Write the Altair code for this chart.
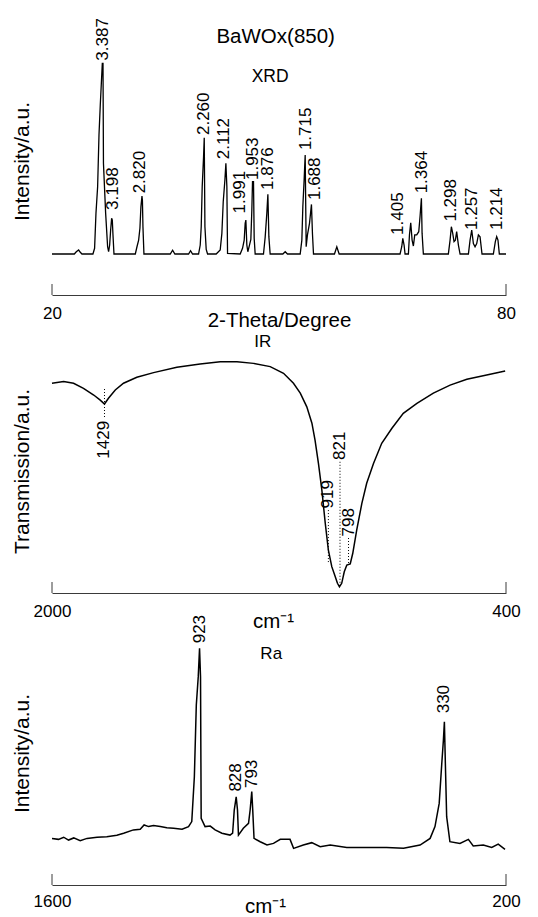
import altair as alt
import pandas as pd

FONT = "Liberation Sans"
INK = "black"
AXIS_GREY = "#3a3a3a"

# ---------------- XRD data ----------------
xrd_2theta = [20.00, 22.95, 23.21, 23.52, 23.74, 23.96,
              25.41, 25.63, 25.81, 26.03, 26.21, 26.38, 26.52, 26.65, 26.74, 26.80, 27.09, 27.35, 27.48,
              27.62, 27.75, 27.88, 27.97, 28.06, 28.19,
              31.01, 31.23, 31.45, 31.62, 31.75, 31.89, 31.95, 32.02, 32.15,
              35.63, 35.94, 36.24, 38.05, 38.31, 38.58,
              39.37, 39.59, 39.72, 39.85, 40.03, 40.12, 40.21, 40.38, 40.56,
              41.70, 42.23, 42.45, 42.63, 42.85, 42.98, 43.11, 43.20,
              44.87, 45.18, 45.40, 45.53, 45.62, 45.75, 45.88, 46.10, 46.28, 46.41, 46.50, 46.63, 46.72, 46.85,
              47.95, 48.17, 48.39, 48.53, 48.66, 48.83,
              50.51, 50.82, 51.12,
              52.80, 53.02, 53.15, 53.32, 53.46, 53.59, 53.76, 54.03, 54.29, 54.42, 54.56,
              57.33, 57.64, 57.95,
              66.00, 66.22, 66.36, 66.53, 66.66,
              67.10, 67.24, 67.41, 67.59, 67.76, 67.94, 68.20, 68.47, 68.64, 68.82, 68.91, 69.08,
              72.38, 72.61, 72.78, 72.96, 73.13, 73.31, 73.48, 73.71, 73.93,
              75.03, 75.25, 75.47, 75.69, 75.91, 76.13, 76.35, 76.57, 76.83,
              78.33, 78.59, 78.77, 78.94, 79.12, 80.00]
xrd_intensity = [0, 0, 1.2, 2.1, 0.9, 0,
                 0, 3.0, 21.3, 35.3, 62.4, 78.1, 89.5, 100, 100, 47.6, 21.3, 3.8, 1.2,
                 4.7, 12.6, 18.7, 17.8, 10.0, 0,
                 0, 3.8, 7.3, 13.5, 24.8, 30.4, 28.0, 14.3, 0,
                 0, 2.0, 0, 0, 1.7, 0,
                 0, 4.7, 14.3, 35.3, 51.0, 61.0, 14.3, 2.4, 0,
                 0, 2.1, 10.8, 27.4, 38.8, 47.6, 35.3, 0.3,
                 0, 3.0, 7.3, 16.1, 17.8, 4.7, 1.2, 4.7, 7.7, 23.1, 37.9, 37.9, 8.2, 0,
                 0, 8.7, 21.3, 31.3, 9.1, 0,
                 0, 1.2, 0,
                 0, 7.3, 24.8, 38.8, 51.9, 3.8, 10.0, 16.1, 26.0, 10.8, 0,
                 0, 3.8, 0,
                 0, 3.8, 8.2, 4.7, 0,
                 0, 10.0, 16.4, 7.3, 4.2, 10.0, 10.0, 11.7, 19.6, 29.2, 10.8, 0,
                 0, 7.3, 14.3, 10.8, 6.5, 7.3, 11.7, 4.7, 0,
                 0, 7.3, 12.6, 5.5, 3.8, 5.5, 10.0, 9.0, 0,
                 0, 6.5, 9.1, 7.3, 0, 0]
xrd_peak_labels = ["3.387", "3.198", "2.820", "2.260", "2.112", "1.991", "1.953", "1.876",
                   "1.715", "1.688", "1.405", "1.364", "1.298", "1.257", "1.214"]
xrd_label_2theta = [26.74, 28.06, 31.58, 40.03, 42.76, 44.83, 46.50, 48.61,
                    53.59, 54.78, 65.78, 68.87, 72.69, 75.56, 78.77]
xrd_label_intensity = [101.4, 23.1, 31.8, 62.4, 49.7, 21.3, 38.8, 33.6,
                       54.5, 28.3, 10.0, 31.8, 17.0, 12.6, 12.6]
xrd_ticks = [20, 80]
xrd_heading = ["BaWOx(850)"]
xrd_heading_2theta = [49.56]
xrd_heading_intensity = [113.8]
xrd_name = ["XRD"]
xrd_name_2theta = [48.83]
xrd_name_intensity = [92.6]

# ---------------- IR data ----------------
ir_wavenumber = [2000, 1959, 1924, 1889, 1853, 1830, 1815, 1801, 1777, 1748,
                 1701, 1642, 1560, 1478, 1407, 1348, 1290, 1231, 1184, 1149,
                 1125, 1102, 1084, 1073, 1061, 1049, 1037, 1026, 1014, 1002,
                 994, 987, 979, 970, 961, 949, 940, 926, 908, 891,
                 867, 838, 802, 762, 714, 656, 597, 538, 468, 403]
ir_transmission = [90.8, 91.5, 90.8, 88.6, 85.7, 83.5, 81.8, 84.3, 87.9, 90.8,
                   93.4, 95.4, 97.7, 99.1, 100.1, 100.1, 99.4, 98.0, 95.1, 90.8,
                   86.5, 80.6, 73.5, 66.2, 56.1, 44.6, 30.2, 18.6, 11.4, 7.1,
                   4.2, 2.7, 4.2, 9.2, 12.1, 12.6, 17.2, 27.3, 38.8, 47.5,
                   56.1, 64.8, 71.3, 77.8, 82.1, 86.5, 90.0, 92.5, 94.4, 96.1]
ir_peak_labels = ["1429", "919", "821", "798"]
ir_peak_wavenumber = [1815, 1026, 985, 955]
ir_label_side = ["below", "above", "above", "above"]
ir_label_anchor = [74.5, 36.6, 57.6, 24.5]
ir_line_from = [88.3, 35.9, 56.8, 23.8]
ir_line_to = [75.3, 12.9, 2.7, 13.0]
ir_ticks = [2000, 400]
ir_name = ["IR"]
ir_name_wavenumber = [1257]
ir_name_transmission = [108.6]

# ---------------- Raman data ----------------
ra_wavenumber = [1600, 1580, 1564, 1549, 1533, 1513, 1492, 1461, 1431, 1400,
                 1379, 1349, 1328, 1316, 1302, 1287, 1266, 1246, 1225, 1199,
                 1179, 1169, 1161, 1155, 1149, 1145, 1142, 1140, 1128, 1112,
                 1097, 1076, 1051, 1043, 1038, 1032, 1028, 1025, 1010, 994,
                 989, 984, 981, 977, 958, 937, 917, 896, 866, 855,
                 825, 799, 773, 742, 691, 629, 568, 516, 465, 434,
                 419, 406, 398, 393, 390, 387, 383, 373, 342, 316,
                 301, 270, 244, 224, 203]
ra_intensity = [19.7, 19.3, 20.2, 19.0, 19.9, 18.7, 19.7, 20.2, 20.4, 21.0,
                21.9, 23.3, 23.6, 25.4, 24.7, 25.2, 24.7, 24.2, 24.0, 23.6,
                24.7, 26.8, 45.8, 76.1, 88.1, 100.1, 88.1, 28.2, 24.7, 24.9,
                23.3, 21.9, 21.1, 21.9, 31.7, 37.3, 31.7, 21.1, 24.0, 26.1,
                31.7, 39.5, 31.7, 19.7, 18.3, 16.9, 17.6, 19.3, 19.3, 15.5,
                16.9, 17.9, 16.2, 16.9, 15.9, 15.9, 15.9, 15.5, 16.9, 19.7,
                24.7, 34.5, 51.5, 61.3, 69.0, 51.5, 28.9, 18.3, 17.6, 19.3,
                16.5, 16.9, 15.9, 17.3, 15.1]
ra_peak_labels = ["923", "828", "793", "330"]
ra_label_wavenumber = [1145, 1032, 984, 390]
ra_label_intensity = [102.2, 39.5, 41.0, 72.6]
ra_ticks = [1600, 200]
ra_name = ["Ra"]
ra_name_wavenumber = [924]
ra_name_intensity = [97.6]

# ---------------- layout / styling ----------------
PANEL_W = 454
H_XRD, H_IR, H_RA = 282, 260, 254
TICK_LEN = 11
CM1 = "cm\u207b\u00b9"


def y_title_axis(title, center_y):
    return alt.Axis(title=title, domain=False, ticks=False, labels=False, grid=False,
                    titleFont=FONT, titleFontSize=21, titleFontWeight="normal", titleColor=INK,
                    titleAngle=270, titleBaseline="bottom", titleAlign="center",
                    titleX=-19.6, titleY=center_y)


def x_bottom_axis(values, title, title_y, title_baseline, label_pad, title_x=None):
    kw = dict(values=values, format="d", title=title, grid=False, domain=True,
              domainColor=AXIS_GREY, domainWidth=1, ticks=False,
              labelPadding=label_pad, labelFont=FONT, labelFontSize=17, labelColor=INK,
              labelFlush=False, labelOverlap=False, labelAngle=0,
              titleFont=FONT, titleFontSize=20.5, titleFontWeight="normal", titleColor=INK,
              titleY=title_y, titleBaseline=title_baseline)
    if title_x is not None:
        kw["titleX"] = title_x
    return alt.Axis(**kw)


def end_ticks(values, xs, height):
    df = pd.DataFrame({"x": values})
    return alt.Chart(df).mark_rule(color=AXIS_GREY, strokeWidth=1).encode(
        x=alt.X("x:Q", scale=xs),
        y=alt.value(height), y2=alt.value(height - TICK_LEN))


def text_layer(df, xs, ys, size, **mk):
    return alt.Chart(df).mark_text(font=FONT, fontSize=size, color=INK, **mk).encode(
        x=alt.X("x:Q", scale=xs), y=alt.Y("y:Q", scale=ys), text="t:N")


# ---------------- XRD panel ----------------
xrd = pd.DataFrame({"x": xrd_2theta, "y": xrd_intensity})
xrd_lab = pd.DataFrame({"x": xrd_label_2theta, "y": xrd_label_intensity, "t": xrd_peak_labels})
xrd_head = pd.DataFrame({"x": xrd_heading_2theta, "y": xrd_heading_intensity, "t": xrd_heading})
xrd_nm = pd.DataFrame({"x": xrd_name_2theta, "y": xrd_name_intensity, "t": xrd_name})
xs1 = alt.Scale(domain=[20, 80], nice=False, zero=False)
ys1 = alt.Scale(domain=[-21.5, 126.4], nice=False, zero=False)

p1_line = alt.Chart(xrd).mark_line(color=INK, strokeWidth=1.3).encode(
    x=alt.X("x:Q", scale=xs1, axis=x_bottom_axis(xrd_ticks, "2-Theta/Degree", 15.5, "top", 10.7)),
    y=alt.Y("y:Q", scale=ys1, axis=y_title_axis("Intensity/a.u.", 148)))
p1_lab = text_layer(xrd_lab, xs1, ys1, 17, angle=270, align="left", baseline="middle")
p1_head = text_layer(xrd_head, xs1, ys1, 20.5, align="center", baseline="middle")
p1_nm = text_layer(xrd_nm, xs1, ys1, 17.5, align="center", baseline="middle")
panel1 = alt.layer(p1_line, p1_lab, p1_head, p1_nm,
                   end_ticks(xrd_ticks, xs1, H_XRD)).properties(width=PANEL_W, height=H_XRD)

# ---------------- IR panel ----------------
ir = pd.DataFrame({"x": ir_wavenumber, "y": ir_transmission})
ir_pk = pd.DataFrame({"x": ir_peak_wavenumber, "y": ir_label_anchor, "t": ir_peak_labels,
                      "side": ir_label_side, "y1": ir_line_from, "y2": ir_line_to})
ir_nm = pd.DataFrame({"x": ir_name_wavenumber, "y": ir_name_transmission, "t": ir_name})
xs2 = alt.Scale(domain=[400, 2000], reverse=True, nice=False, zero=False)
ys2 = alt.Scale(domain=[0, 112.55], nice=False, zero=False)

p2_line = alt.Chart(ir).mark_line(color=INK, strokeWidth=1.5).encode(
    x=alt.X("x:Q", scale=xs2, axis=x_bottom_axis(ir_ticks, CM1, 34, "alphabetic", 10.7, title_x=221)),
    y=alt.Y("y:Q", scale=ys2, axis=y_title_axis("Transmission/a.u.", 138)))
p2_dots = alt.Chart(ir_pk).mark_rule(color=INK, strokeWidth=1, strokeDash=[1, 2]).encode(
    x=alt.X("x:Q", scale=xs2), y=alt.Y("y1:Q", scale=ys2), y2="y2:Q")
p2_above = text_layer(ir_pk[ir_pk["side"] == "above"], xs2, ys2, 17,
                      angle=270, align="left", baseline="middle")
p2_below = text_layer(ir_pk[ir_pk["side"] == "below"], xs2, ys2, 17,
                      angle=270, align="right", baseline="middle")
p2_nm = text_layer(ir_nm, xs2, ys2, 17, align="center", baseline="middle")
panel2 = alt.layer(p2_line, p2_dots, p2_above, p2_below, p2_nm,
                   end_ticks(ir_ticks, xs2, H_IR)).properties(width=PANEL_W, height=H_IR)

# ---------------- Raman panel ----------------
ra = pd.DataFrame({"x": ra_wavenumber, "y": ra_intensity})
ra_lab = pd.DataFrame({"x": ra_label_wavenumber, "y": ra_label_intensity, "t": ra_peak_labels})
ra_nm = pd.DataFrame({"x": ra_name_wavenumber, "y": ra_name_intensity, "t": ra_name})
xs3 = alt.Scale(domain=[200, 1600], reverse=True, nice=False, zero=False)
ys3 = alt.Scale(domain=[0, 107.4], nice=False, zero=False)

p3_line = alt.Chart(ra).mark_line(color=INK, strokeWidth=1.5).encode(
    x=alt.X("x:Q", scale=xs3, axis=x_bottom_axis(ra_ticks, CM1, 27, "alphabetic", 8.7, title_x=213)),
    y=alt.Y("y:Q", scale=ys3, axis=y_title_axis("Intensity/a.u.", 122)))
p3_lab = text_layer(ra_lab, xs3, ys3, 17, angle=270, align="left", baseline="middle")
p3_nm = text_layer(ra_nm, xs3, ys3, 17, align="center", baseline="middle")
panel3 = alt.layer(p3_line, p3_lab, p3_nm,
                   end_ticks(ra_ticks, xs3, H_RA)).properties(width=PANEL_W, height=H_RA)

chart = alt.vconcat(panel1, panel2, panel3, spacing=38, bounds="flush").properties(
    padding={"left": 3, "top": 5, "right": 5, "bottom": 2}
).configure(font=FONT, background="white").configure_view(stroke=None)

chart.save("out.html", embed_options={"renderer": "svg", "actions": False})
